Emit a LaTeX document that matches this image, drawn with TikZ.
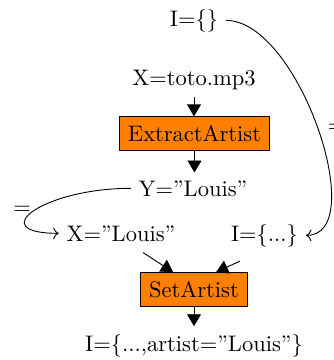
\documentclass[tikz,border=0pt]{standalone}
\usetikzlibrary{arrows.meta}
\begin{document}
\begin{tikzpicture}[x=0.4444pt,y=-0.4444pt,
  txt/.style={anchor=base},
  proc/.style={draw=black,fill=orange,inner sep=3.8pt},
  big/.style={-{Triangle[length=5.3pt,width=6.2pt]}},
  eqarrow/.style={->}]
\useasboundingbox (0,0) rectangle (334,360);
\node[txt] (i0) at (194,26) {I=\{\}};
\node[txt] (toto) at (194,85) {X=toto.mp3};
\node[proc] (ea) at (194.5,133.5) {ExtractArtist};
\node[txt] (yl) at (193,196) {Y=''Louis''};
\node[txt] (xl) at (121,241) {X=''Louis''};
\node[txt] (il) at (264.5,241) {I=\{...\}};
\node[proc] (sa) at (194,289.4) {SetArtist};
\node[txt] (out) at (194,351) {I=\{...,artist=''Louis''\}};
\draw[big] (toto.south) -- (toto.south |- ea.north);
\draw[big] (ea.south) -- (ea.south |- yl.north);
\draw[big] ([xshift=9.8pt,yshift=-1.5pt]xl.south) -- ([xshift=-9.3pt]sa.north);
\draw[big] ([xshift=-10.9pt,yshift=-2.9pt]il.south) -- ([xshift=9.8pt]sa.north);
\draw[big] (sa.south) -- (out.north);
\draw[eqarrow] (i0.east) .. controls +(73,0) and +(65,0) .. (il.east)
  node[pos=0.5,right,xshift=1pt] (eqr) {=};
\draw[eqarrow] (yl.west) .. controls +(-88,0) and +(-75,0) .. (xl.west)
  node[pos=0.5,left,inner sep=1pt] (eql) {=};
\end{tikzpicture}
\end{document}
